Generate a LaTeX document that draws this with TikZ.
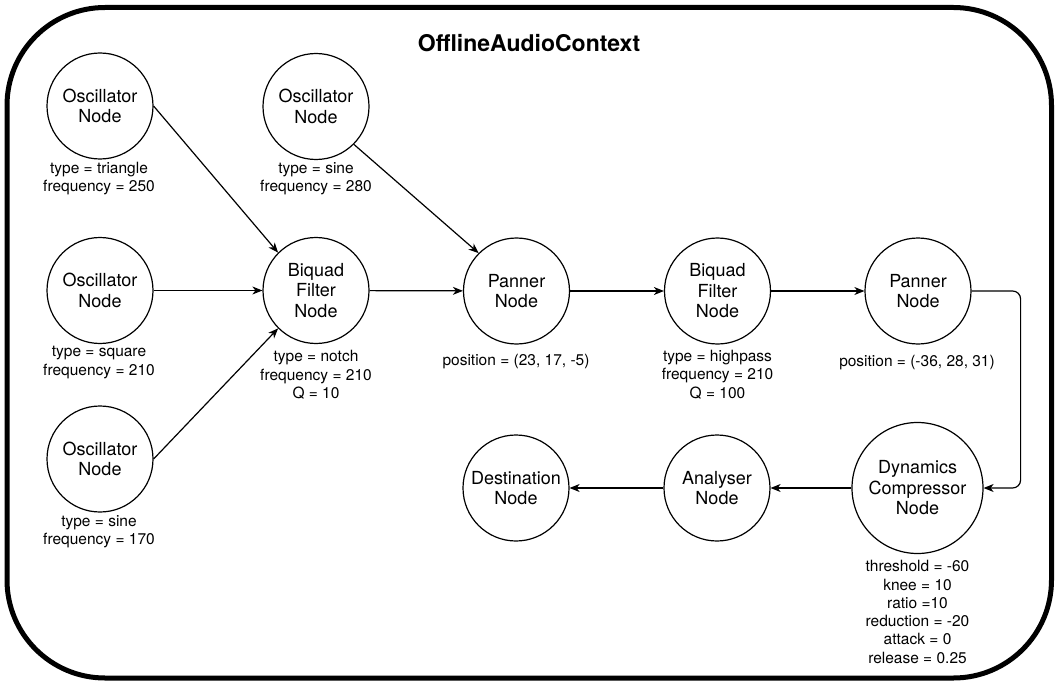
\documentclass[tikz,border=0pt]{standalone}
\usepackage{fontspec}
\setmainfont{TeX Gyre Heros}
\usetikzlibrary{arrows.meta,calc}
\begin{document}
\begin{tikzpicture}[x=1pt,y=-1pt,
  audionode/.style={circle,draw,line width=1.2pt,minimum size=106pt,inner sep=0pt,align=center,
    font=\fontsize{18}{20.5}\selectfont},
  bignode/.style={audionode,minimum size=131pt},
  param/.style={align=center,inner sep=0pt,font=\fontsize{15.5}{18.3}\selectfont},
  arr/.style={line width=1.2pt,-{Stealth[length=10pt,width=8pt,inset=3pt]}},
  frame/.style={line width=5pt,rounded corners=98pt}
]
\useasboundingbox (0,0) rectangle (1055,682);
\draw[frame] (7,7.5) rectangle (1051.5,678);
\node[font=\fontsize{23}{26}\selectfont\bfseries] (title) at (529,43) {OfflineAudioContext};

\node[audionode] (osc1) at (100,106) {Oscillator\\Node};
\node[audionode] (osc2) at (316,106.5) {Oscillator\\Node};
\node[audionode] (osc3) at (100,290.5) {Oscillator\\Node};
\node[audionode] (osc4) at (100,459) {Oscillator\\Node};
\node[audionode] (bq1) at (316,290.5) {Biquad\\Filter\\Node};
\node[audionode] (pan1) at (516.5,291) {Panner\\Node};
\node[audionode] (bq2) at (717.5,291) {Biquad\\Filter\\Node};
\node[audionode] (pan2) at (918,291) {Panner\\Node};
\node[bignode] (dyn) at (917.5,488) {Dynamics\\Compressor\\Node};
\node[audionode] (ana) at (717,488) {Analyser\\Node};
\node[audionode] (dest) at (516,488) {Destination\\Node};

\node[param] (p1) at (99,178.5) {type = triangle\\frequency = 250};
\node[param] (p2) at (316,178.5) {type = sine\\frequency = 280};
\node[param] (p3) at (99,362.5) {type = square\\frequency = 210};
\node[param] (p4) at (99,531.5) {type = sine\\frequency = 170};
\node[param] (p5) at (316,375) {type = notch\\frequency = 210\\Q = 10};
\node[param] (p6) at (516,362) {position = (23, 17, -5)};
\node[param] (p7) at (717.5,374.5) {type = highpass\\frequency = 210\\Q = 100};
\node[param] (p8) at (917,363) {position = (-36, 28, 31)};
\node[param] (p9) at (917.5,612) {threshold = -60\\knee = 10\\ratio =10\\reduction = -20\\attack = 0\\release = 0.25};

\draw[arr] (osc1.east) -- (bq1.north west);
\draw[arr] (osc3) -- (bq1);
\draw[arr] (osc4.east) -- (bq1.south west);
\draw[arr] (bq1) -- (pan1);
\draw[arr] (osc2.south east) -- (pan1.north west);
\draw[arr] (pan1) -- (bq2);
\draw[arr] (bq2) -- (pan2);
\draw[arr,rounded corners=8pt] (pan2.east) -- ++(49,0) |- (dyn.east);
\draw[arr] (dyn) -- (ana);
\draw[arr] (ana) -- (dest);
\end{tikzpicture}
\end{document}
